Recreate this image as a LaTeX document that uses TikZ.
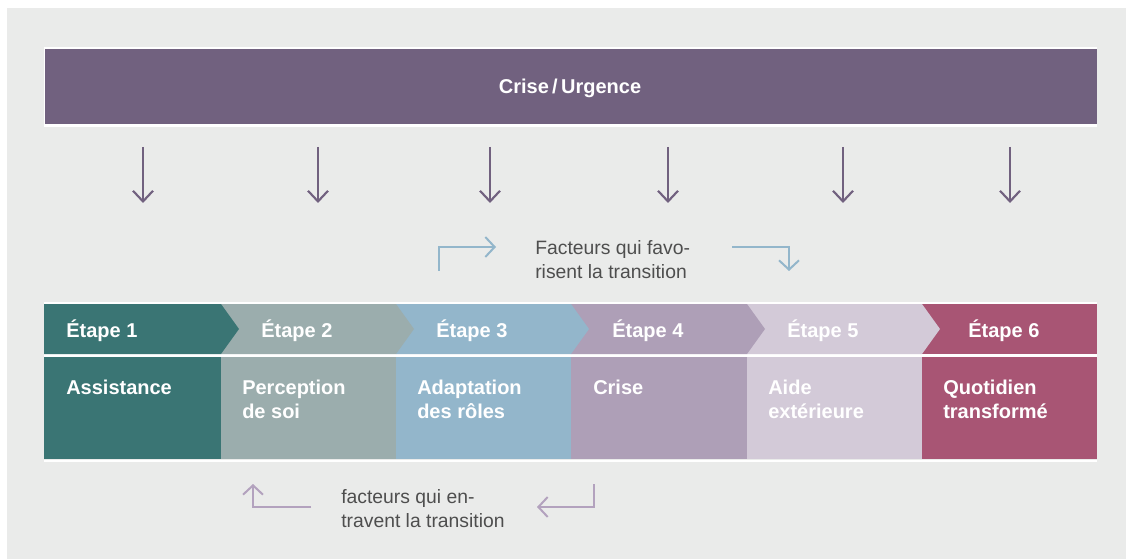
\documentclass[tikz,border=0pt]{standalone}
\usepackage{fontspec}
\setmainfont{Liberation Sans}
\usetikzlibrary{arrows.meta}
\definecolor{bgc}{HTML}{EAEBEA}
\definecolor{purp}{HTML}{71617F}
\definecolor{sA}{HTML}{3A7574}
\definecolor{sB}{HTML}{9BADAD}
\definecolor{sC}{HTML}{93B6CB}
\definecolor{sD}{HTML}{AE9FB7}
\definecolor{sE}{HTML}{D3CAD8}
\definecolor{sF}{HTML}{A85574}
\definecolor{txtg}{HTML}{4E4E4E}
\definecolor{arrb}{HTML}{93B6CB}
\definecolor{arrm}{HTML}{B3A2BE}
\tikzset{
  boldtxt/.style={font=\fontsize{15}{18}\selectfont\bfseries, text=white, inner sep=0pt, anchor=base west},
  titletxt/.style={font=\fontsize{15}{18}\selectfont\bfseries, text=white, inner sep=0pt, anchor=base},
  normtxt/.style={font=\fontsize{14.5}{18}\selectfont, text=txtg, inner sep=0pt, anchor=base west},
  downarr/.style={draw=purp, line width=1.6pt, -{Straight Barb[length=8pt,width=15pt]}},
  elbowb/.style={draw=arrb, line width=1.5pt, -{Straight Barb[length=7pt,width=15pt]}},
  elbowm/.style={draw=arrm, line width=1.5pt, -{Straight Barb[length=7pt,width=15pt]}},
}
\begin{document}
\begin{tikzpicture}[x=0.75pt,y=-0.75pt]
\useasboundingbox (0,0) rectangle (1126,559);
\fill[white] (0,0) rectangle (1126,559);
\fill[bgc] (7,8) rectangle (1126,559);
% top bar
\fill[white] (44,47) rectangle (1097,127);
\fill[purp] (45,49) rectangle (1097,124);
\node[titletxt] (title) at (570,94) {Crise\,/\,Urgence};
% down arrows
\foreach \i/\x in {1/143,2/318,3/490,4/668,5/843,6/1010}{
  \coordinate (ds\i) at (\x,147);
  \coordinate (de\i) at (\x,203);
  \draw[downarr] (ds\i) -- (de\i);
}
% stage band
\fill[white] (44,302) rectangle (1097,462);
\fill[bgc] (44,459.3) rectangle (1097,460.3);
\fill[sF] (922,304) rectangle (1097,354);
\fill[sE] (747,304) -- (922,304) -- (940,329) -- (922,354) -- (747,354) -- cycle;
\fill[sD] (571,304) -- (747,304) -- (765,329) -- (747,354) -- (571,354) -- cycle;
\fill[sC] (396,304) -- (571,304) -- (589,329) -- (571,354) -- (396,354) -- cycle;
\fill[sB] (221,304) -- (396,304) -- (414,329) -- (396,354) -- (221,354) -- cycle;
\fill[sA] (44,304) -- (221,304) -- (239,329) -- (221,354) -- (44,354) -- cycle;
\fill[sA] (44,357) rectangle (221,459.3);
\fill[sB] (221,357) rectangle (396,459.3);
\fill[sC] (396,357) rectangle (571,459.3);
\fill[sD] (571,357) rectangle (747,459.3);
\fill[sE] (747,357) rectangle (922,459.3);
\fill[sF] (922,357) rectangle (1097,459.3);
% header labels
\node[boldtxt] (h1) at (66,337) {Étape 1};
\node[boldtxt] (h2) at (261,337) {Étape 2};
\node[boldtxt] (h3) at (436,337) {Étape 3};
\node[boldtxt] (h4) at (612,337) {Étape 4};
\node[boldtxt] (h5) at (787,337) {Étape 5};
\node[boldtxt] (h6) at (968,337) {Étape 6};
% content labels
\node[boldtxt] (c1) at (66,394) {Assistance};
\node[boldtxt] (c2a) at (242,394) {Perception};
\node[boldtxt] (c2b) at (242,418) {de soi};
\node[boldtxt] (c3a) at (417,394) {Adaptation};
\node[boldtxt] (c3b) at (417,418) {des rôles};
\node[boldtxt] (c4) at (593,394) {Crise};
\node[boldtxt] (c5a) at (768,394) {Aide};
\node[boldtxt] (c5b) at (768,418) {extérieure};
\node[boldtxt] (c6a) at (943,394) {Quotidien};
\node[boldtxt] (c6b) at (943,418) {transformé};
% favouring factors
\node[normtxt] (fa) at (535,255) {Facteurs qui favo-};
\node[normtxt] (fb) at (535,278) {risent la transition};
\coordinate (fl1) at (439,271);
\coordinate (fl2) at (439,247);
\coordinate (fl3) at (496,247);
\draw[elbowb] (fl1) -- (fl2) -- (fl3);
\coordinate (fr1) at (732,247);
\coordinate (fr2) at (789,247);
\coordinate (fr3) at (789,271);
\draw[elbowb] (fr1) -- (fr2) -- (fr3);
% hindering factors
\node[normtxt] (ha) at (341,503) {facteurs qui en-};
\node[normtxt] (hb) at (341,527) {travent la transition};
\coordinate (hl1) at (311,507);
\coordinate (hl2) at (253,507);
\coordinate (hl3) at (253,484);
\draw[elbowm] (hl1) -- (hl2) -- (hl3);
\coordinate (hr1) at (594,484);
\coordinate (hr2) at (594,507);
\coordinate (hr3) at (537,507);
\draw[elbowm] (hr1) -- (hr2) -- (hr3);
\end{tikzpicture}
\end{document}
